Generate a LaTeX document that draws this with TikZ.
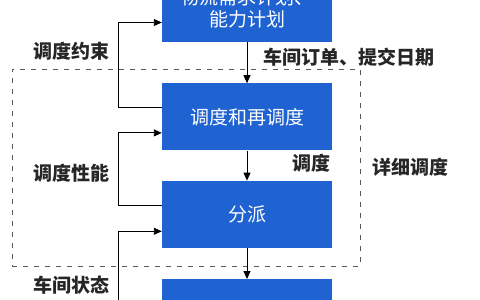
\documentclass[tikz,border=0pt]{standalone}
\usepackage{fontspec}
\setmainfont{Noto Sans CJK SC}
\usepackage{tikz}
\usetikzlibrary{arrows.meta,positioning,calc}
\definecolor{blkblue}{HTML}{1F62D2}
\definecolor{framegray}{HTML}{5A5560}

\begin{document}
\begin{tikzpicture}[
    x=1pt, y=1pt,
    font=\fontsize{19}{22}\selectfont,
    node distance=0mm,
    blk/.style={fill=blkblue, text=white, minimum width=170pt, minimum height=67pt, align=center, inner sep=0pt},
    lbl/.style={text=black!85, inner sep=0pt, font=\fontsize{19}{22}\selectfont\bfseries},
    flow/.style={-{Triangle[length=8pt,width=7pt]}, line width=0.9pt},
    frame/.style={draw=framegray, dashed, dash pattern=on 5pt off 6pt, line width=0.9pt, minimum width=348pt, minimum height=197pt, inner sep=0pt}
]
\clip (0,0) rectangle (480,-300);
\useasboundingbox (0,0) rectangle (480,-300);

\node[frame] (detail) at (186,-167.5) {};

\node[blk] (plan) at (247,-8.5) {物流需求计划、\\能力计划};
\node[blk, below=41pt of plan] (sched) {调度和再调度};
\node[blk, below=30pt of sched] (disp) {分派};
\node[blk, below=31pt of disp] (exec) {};

\foreach \a/\b in {plan/sched, sched/disp, disp/exec}
  \draw[flow] (\a.south) -- (\b.north);

% feedback on the left
\draw[flow] ([yshift=9pt]sched.west) -- ++(-43,0) |- ([yshift=-14pt]plan.west);
\draw[flow] ([yshift=9pt]disp.west) -- ++(-43,0) |- ([yshift=-16pt]sched.west);
\draw[flow] ([yshift=9pt]exec.west) -- ++(-43,0) |- ([yshift=-17pt]disp.west);

\node[lbl] (cons) at (72,-51) {调度约束};
\node[lbl] (perf) at (72,-173) {调度性能};
\node[lbl] (state) at (72,-285) {车间状态};
\node[lbl, anchor=west] (order) at (263,-57) {车间订单、提交日期};
\node[lbl] (dlab) at (311,-163) {调度};
\node[lbl, right=12pt of detail.east] (fine) {详细调度};
\end{tikzpicture}
\end{document}
